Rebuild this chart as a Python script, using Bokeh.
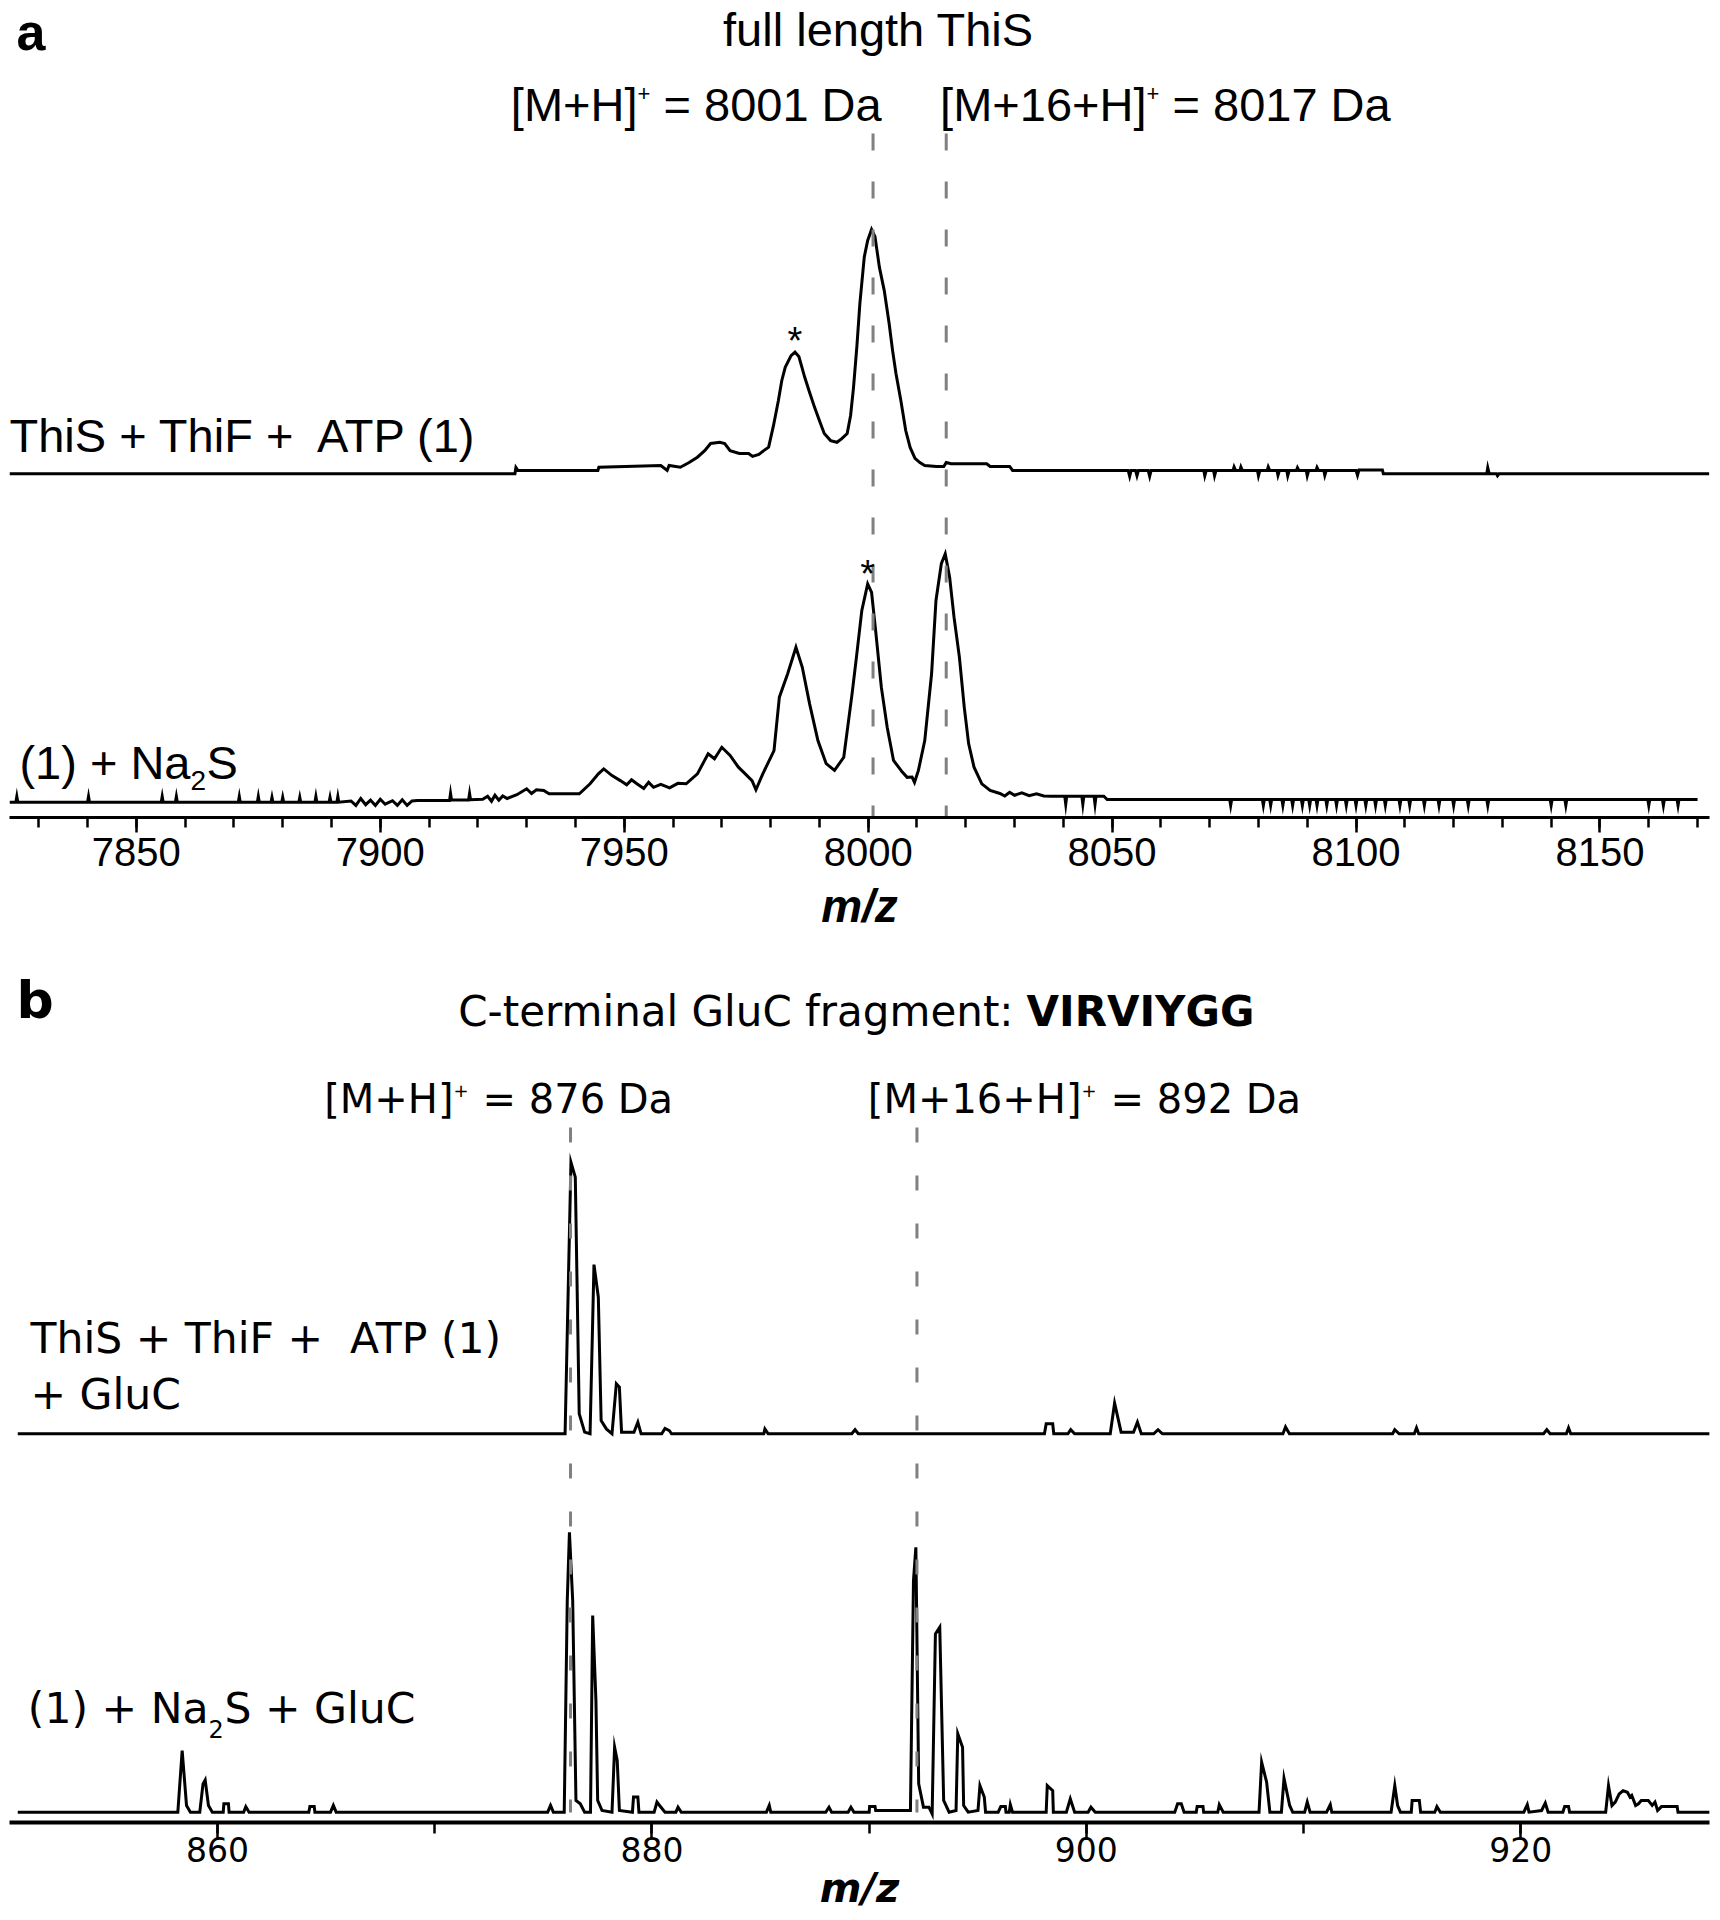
import numpy as np
from bokeh.plotting import figure
from bokeh.models import Range1d, Label, SingleIntervalTicker
from bokeh.layouts import column
from bokeh.embed import file_html
from bokeh.resources import INLINE

# ---------------- data (m/z, relative intensity %) ----------------
a_upper = [
    (7824.0, 0.0), (7927.6, 0.0), (7927.8, 2.6), (7928.2, 1.4), (7944.6, 1.4), (7944.8, 2.7),
    (7957.5, 3.4), (7958.8, 1.4), (7959.2, 3.4), (7961.5, 2.7), (7963.3, 4.6), (7965.0, 6.8),
    (7966.5, 9.5), (7967.7, 12.4), (7969.6, 12.9), (7970.6, 12.4), (7971.7, 9.5), (7973.6, 8.3),
    (7975.5, 8.3), (7976.3, 7.1), (7977.6, 7.9), (7978.6, 9.5), (7979.6, 10.9), (7980.6, 19.8),
    (7981.6, 30.0), (7982.3, 38.2), (7983.0, 43.6), (7984.2, 48.4), (7985.0, 49.8), (7985.8, 48.0),
    (7987.0, 39.5), (7988.0, 33.3), (7989.0, 27.3), (7990.0, 21.8), (7991.0, 16.5), (7992.3, 13.6),
    (7993.6, 12.9), (7994.6, 14.4), (7995.7, 16.5), (7996.4, 23.9), (7997.0, 35.4), (7997.7, 52.5),
    (7998.3, 69.7), (7999.2, 88.7), (7999.9, 95.5), (8000.7, 100.0), (8001.4, 97.1), (8002.3, 84.6),
    (8003.3, 75.0), (8004.3, 61.5), (8005.0, 50.5), (8005.7, 41.1), (8006.7, 30.0), (8007.7, 17.7),
    (8008.6, 10.8), (8009.6, 6.3), (8010.6, 4.6), (8011.6, 3.4), (8014.0, 3.0), (8015.5, 3.0),
    (8016.0, 4.6), (8017.0, 4.1), (8024.3, 4.1), (8025.0, 3.0), (8029.0, 3.0), (8029.6, 1.4),
    (8053.3, 1.4), (8053.6, -1.0), (8053.9, 1.4), (8054.8, 1.4), (8055.1, -0.8), (8055.4, 1.4),
    (8057.4, 1.4), (8057.7, -1.0), (8058.0, 1.4), (8068.8, 1.4), (8069.0, -0.8), (8069.3, 1.4),
    (8070.8, 1.4), (8071.0, -0.8), (8071.3, 1.4), (8074.8, 1.4), (8075.0, 2.8), (8075.3, 1.4),
    (8076.2, 1.4), (8076.4, 2.8), (8076.7, 1.4), (8079.8, 1.4), (8080.0, -0.8), (8080.3, 1.4),
    (8081.8, 1.4), (8082.0, 2.8), (8082.3, 1.4), (8083.8, 1.4), (8084.0, -0.6), (8084.3, 1.4),
    (8085.8, 1.4), (8086.0, -0.8), (8086.3, 1.4), (8087.8, 1.4), (8088.0, 2.5), (8088.3, 1.4),
    (8089.8, 1.4), (8090.0, -0.8), (8090.3, 1.4), (8091.8, 1.4), (8092.0, 2.6), (8092.3, 1.4),
    (8093.4, 1.4), (8093.6, -0.6), (8093.9, 1.4), (8100.0, 1.4), (8100.3, -0.6), (8100.6, 1.6),
    (8105.4, 1.6), (8105.6, 0.0), (8126.8, 0.0), (8127.0, 2.5), (8127.3, 0.0), (8128.8, 0.0),
    (8129.0, -0.8), (8129.3, 0.0), (8172.4, 0.0),
]

a_lower = [
    (7824.0, 0.0), (7825.3, 0.0), (7825.5, 2.3), (7825.7, 0.0), (7840.0, 0.0), (7840.2, 2.3),
    (7840.4, 0.0), (7855.1, 0.0), (7855.3, 2.3), (7855.5, 0.0), (7858.0, 0.0), (7858.2, 2.3),
    (7858.4, 0.0), (7870.9, 0.0), (7871.1, 2.3), (7871.3, 0.0), (7874.8, 0.0), (7875.0, 2.3),
    (7875.2, 0.0), (7877.6, 0.0), (7877.8, 2.0), (7878.0, 0.0), (7879.8, 0.0), (7880.0, 2.0),
    (7880.2, 0.0), (7883.3, 0.0), (7883.5, 2.0), (7883.7, 0.0), (7886.6, 0.0), (7886.8, 2.3),
    (7887.0, 0.0), (7889.5, 0.0), (7889.7, 2.0), (7889.9, 0.0), (7891.1, 0.0), (7891.3, 2.3),
    (7891.5, 0.0), (7894.0, 0.5), (7895.0, -1.3), (7896.0, 1.5), (7897.0, -1.0), (7898.0, 0.8),
    (7899.0, -1.3), (7900.0, 1.2), (7901.0, -0.8), (7902.5, 0.6), (7903.5, -1.3), (7904.5, 1.0),
    (7905.5, -1.3), (7906.5, 0.5), (7907.6, 0.7), (7914.2, 0.7), (7914.4, 3.5), (7914.6, 0.9),
    (7918.1, 0.9), (7918.3, 3.5), (7918.5, 1.0), (7921.0, 1.2), (7922.0, 2.4), (7922.8, 0.4),
    (7923.5, 2.8), (7924.3, 0.8), (7925.1, 2.5), (7926.0, 1.5), (7928.0, 3.0), (7930.0, 5.4),
    (7931.0, 3.5), (7932.0, 5.0), (7933.5, 4.7), (7934.6, 3.4), (7940.8, 3.4), (7943.0, 7.4),
    (7944.7, 11.4), (7945.8, 13.4), (7947.5, 10.7), (7949.2, 8.7), (7950.5, 7.0), (7951.5, 9.0),
    (7952.6, 7.4), (7954.0, 5.5), (7955.0, 8.0), (7956.0, 6.0), (7957.5, 7.2), (7959.3, 5.8),
    (7961.0, 7.6), (7962.7, 7.4), (7965.0, 11.4), (7967.2, 19.5), (7968.5, 17.5), (7970.0, 22.1),
    (7971.7, 18.8), (7973.4, 14.1), (7974.5, 12.0), (7976.2, 8.7), (7977.0, 5.0), (7978.4, 11.4),
    (7980.7, 20.8), (7981.8, 42.3), (7983.5, 51.7), (7985.2, 62.4), (7986.5, 54.3), (7988.0, 39.6),
    (7989.7, 24.8), (7991.4, 15.5), (7993.1, 12.8), (7995.0, 18.1), (7996.7, 43.6), (7997.6, 58.4),
    (7998.7, 77.2), (7999.9, 87.9), (8000.7, 84.5), (8001.6, 67.8), (8002.7, 46.3), (8003.9, 30.2),
    (8005.2, 16.8), (8007.0, 12.1), (8008.0, 10.0), (8009.0, 10.1), (8009.5, 8.0), (8010.3, 12.8),
    (8011.6, 24.8), (8013.0, 51.7), (8013.9, 81.2), (8015.0, 96.0), (8015.8, 100.0), (8016.7, 90.6),
    (8017.6, 74.5), (8018.7, 58.4), (8019.7, 38.2), (8020.6, 23.5), (8021.7, 14.1), (8023.3, 7.4),
    (8025.0, 4.7), (8027.0, 3.5), (8028.0, 2.5), (8029.0, 4.0), (8030.0, 2.8), (8031.5, 3.8),
    (8033.0, 2.6), (8034.5, 3.4), (8036.0, 2.5), (8037.6, 2.4), (8040.3, 2.4), (8040.5, -0.8),
    (8040.7, 2.4), (8043.8, 2.4), (8044.0, -0.8), (8044.2, 2.4), (8046.3, 2.4), (8046.5, -0.8),
    (8046.7, 2.4), (8048.3, 2.4), (8049.0, 1.1), (8074.1, 1.1), (8074.3, -1.3), (8074.5, 1.1),
    (8080.8, 1.1), (8081.0, -1.3), (8081.2, 1.1), (8082.3, 1.1), (8082.5, -1.3), (8082.7, 1.1),
    (8084.8, 1.1), (8085.0, -1.3), (8085.2, 1.1), (8086.8, 1.1), (8087.0, -1.3), (8087.2, 1.1),
    (8088.8, 1.1), (8089.0, -1.3), (8089.2, 1.1), (8090.3, 1.1), (8090.5, -1.3), (8090.7, 1.1),
    (8091.8, 1.1), (8092.0, -1.3), (8092.2, 1.1), (8093.8, 1.1), (8094.0, -1.3), (8094.2, 1.1),
    (8095.8, 1.1), (8096.0, -1.3), (8096.2, 1.1), (8097.8, 1.1), (8098.0, -1.3), (8098.2, 1.1),
    (8099.8, 1.1), (8100.0, -1.3), (8100.2, 1.1), (8101.8, 1.1), (8102.0, -1.3), (8102.2, 1.1),
    (8103.8, 1.1), (8104.0, -1.3), (8104.2, 1.1), (8105.8, 1.1), (8106.0, -1.3), (8106.2, 1.1),
    (8108.8, 1.1), (8109.0, -1.3), (8109.2, 1.1), (8110.8, 1.1), (8111.0, -1.3), (8111.2, 1.1),
    (8113.8, 1.1), (8114.0, -1.3), (8114.2, 1.1), (8116.8, 1.1), (8117.0, -1.3), (8117.2, 1.1),
    (8119.8, 1.1), (8120.0, -1.3), (8120.2, 1.1), (8122.8, 1.1), (8123.0, -1.3), (8123.2, 1.1),
    (8126.8, 1.1), (8127.0, -1.3), (8127.2, 1.1), (8139.8, 1.1), (8140.0, -1.3), (8140.2, 1.1),
    (8142.8, 1.1), (8143.0, -1.3), (8143.2, 1.1), (8159.8, 1.1), (8160.0, -1.3), (8160.2, 1.1),
    (8162.8, 1.1), (8163.0, -1.3), (8163.2, 1.1), (8165.8, 1.1), (8166.0, -1.3), (8166.2, 1.1),
    (8170.0, 1.1),
]

b_upper = [
    (850.8, 0.0), (876.0, 0.0), (876.27, 100.0), (876.47, 94.5), (876.65, 7.4), (876.9, 0.6),
    (877.15, 0.0), (877.33, 62.3), (877.53, 50.3), (877.66, 4.9), (877.9, 1.8), (878.16, 0.0),
    (878.36, 18.4), (878.5, 17.2), (878.6, 0.6), (879.17, 0.6), (879.35, 4.3), (879.5, 0.0),
    (880.45, 0.0), (880.6, 2.0), (880.8, 1.2), (880.9, 0.0), (885.15, 0.0), (885.2, 1.8),
    (885.35, 0.0), (889.2, 0.0), (889.35, 1.5), (889.5, 0.0), (898.07, 0.0), (898.15, 3.7),
    (898.45, 3.7), (898.5, 0.0), (899.15, 0.0), (899.28, 1.5), (899.46, 0.0), (901.1, 0.0),
    (901.3, 11.3), (901.6, 0.6), (902.17, 0.6), (902.35, 4.3), (902.53, 0.0), (903.1, 0.0),
    (903.3, 1.5), (903.5, 0.0), (909.05, 0.0), (909.17, 2.5), (909.35, 0.0), (914.1, 0.0),
    (914.2, 1.5), (914.4, 0.0), (915.1, 0.0), (915.2, 2.2), (915.3, 0.0), (921.05, 0.0),
    (921.2, 1.5), (921.35, 0.0), (922.1, 0.0), (922.2, 2.2), (922.3, 0.0), (928.7, 0.0),
]

b_lower = [
    (850.8, 0.0), (858.17, 0.0), (858.37, 22.0), (858.57, 2.4), (858.75, 0.0), (859.18, 0.0),
    (859.33, 10.1), (859.43, 11.5), (859.58, 2.4), (859.76, 0.0), (860.26, 0.0), (860.29, 3.0),
    (860.5, 3.0), (860.53, 0.0), (861.2, 0.0), (861.3, 2.0), (861.45, 0.0), (864.2, 0.0),
    (864.25, 2.0), (864.45, 2.0), (864.48, 0.0), (865.2, 0.0), (865.33, 2.4), (865.46, 0.0),
    (875.2, 0.0), (875.33, 2.4), (875.46, 0.0), (875.96, 0.0), (876.1, 75.6), (876.2, 100.0),
    (876.35, 75.6), (876.5, 4.2), (876.7, 3.0), (876.9, 0.0), (877.17, 0.0), (877.27, 70.2),
    (877.42, 39.9), (877.5, 4.2), (877.7, 0.6), (878.16, 0.0), (878.28, 23.2), (878.4, 18.5),
    (878.5, 0.6), (879.1, 0.0), (879.15, 5.4), (879.35, 5.4), (879.4, 0.0), (880.1, 0.0),
    (880.23, 3.6), (880.35, 2.4), (880.6, 0.0), (881.1, 0.0), (881.2, 1.8), (881.35, 0.0),
    (885.27, 0.0), (885.4, 2.4), (885.47, 0.0), (888.0, 0.0), (888.15, 1.8), (888.27, 0.0),
    (889.03, 0.0), (889.16, 1.8), (889.3, 0.0), (890.0, 0.0), (890.02, 2.0), (890.27, 2.0),
    (890.3, 0.6), (891.9, 0.6), (892.04, 82.7), (892.15, 94.6), (892.28, 10.1), (892.5, 1.8),
    (892.75, 1.8), (892.9, -0.6), (893.05, 63.7), (893.25, 66.1), (893.43, 4.2), (893.68, 0.0),
    (894.0, 0.6), (894.08, 28.0), (894.3, 23.2), (894.35, 2.4), (894.56, 0.0), (895.01, 0.6),
    (895.1, 9.5), (895.3, 5.4), (895.36, 0.0), (895.94, 0.0), (896.06, 2.0), (896.27, 2.0),
    (896.3, 0.0), (896.45, 0.0), (896.5, 2.7), (896.6, 0.0), (898.15, 0.0), (898.2, 9.5),
    (898.45, 7.7), (898.48, 0.0), (899.08, 0.0), (899.26, 4.8), (899.46, 0.0), (900.08, 0.0),
    (900.21, 1.8), (900.41, 0.0), (904.07, 0.0), (904.2, 3.0), (904.37, 3.0), (904.5, 0.0),
    (905.06, 0.0), (905.1, 2.0), (905.37, 2.0), (905.4, 0.0), (906.05, 0.0), (906.12, 2.7),
    (906.3, 0.0), (907.95, 0.0), (908.07, 17.9), (908.3, 10.7), (908.45, 0.0), (908.98, 0.0),
    (909.1, 12.1), (909.36, 2.4), (909.5, 0.0), (910.05, 0.0), (910.17, 3.6), (910.3, 0.0),
    (911.06, 0.0), (911.23, 2.7), (911.3, 0.0), (914.03, 0.0), (914.2, 9.5), (914.33, 2.4),
    (914.46, 0.0), (914.96, 0.0), (915.0, 4.2), (915.33, 4.2), (915.39, 0.0), (916.04, 0.0),
    (916.14, 2.0), (916.3, 0.0), (920.14, 0.0), (920.3, 2.7), (920.38, 0.0), (920.96, 0.6),
    (921.13, 3.3), (921.26, 0.0), (921.94, 0.0), (922.02, 2.0), (922.2, 2.0), (922.25, 0.0),
    (923.91, 0.0), (924.04, 9.5), (924.2, 2.4), (924.35, 3.6), (924.53, 6.5), (924.71, 7.7),
    (924.91, 7.1), (925.03, 5.4), (925.11, 6.0), (925.29, 2.4), (925.42, 3.0), (925.55, 4.2),
    (925.87, 4.2), (926.05, 2.4), (926.18, 3.6), (926.3, 0.6), (926.48, 2.0), (927.2, 2.0),
    (927.24, 0.0), (928.7, 0.0),
]

a_marker_lines = [8001.0, 8016.0]
b_marker_lines = [876.25, 892.2]
a_star_peaks = [7985.0, 7999.9]

a_labels = ["ThiS + ThiF +\u00a0 ATP (1)", "(1) + Na", "2", "S"]
b_labels = ["ThiS + ThiF +\u00a0 ATP (1)", "+ GluC", "(1) + Na", "2", "S + GluC"]

# ---------------- helpers ----------------
FA = "Liberation Sans"
FB = "DejaVu Sans"
K = 0.34  # correction of rendered text baseline


def txt(p, base, xs, yb, text, font, size, style="normal", align="left", x_units="screen"):
    # base: page y of the axis (data y = 0); yb: page y of the text baseline
    p.add_layout(Label(x=xs, y=base - yb + K * size, x_units=x_units, y_units="data", text=text,
                       text_font=font, text_font_size=f"{size}px", text_font_style=style,
                       text_align=align, text_baseline="alphabetic", text_color="black"))


def base_fig(height, xr, yr_top, bottom):
    p = figure(width=1720, height=height, x_range=Range1d(*xr), y_range=Range1d(0, yr_top),
               output_backend="svg", toolbar_location=None, y_axis_location=None,
               min_border_left=9, min_border_right=11, min_border_top=0, min_border_bottom=bottom)
    p.grid.visible = False
    p.outline_line_color = None
    p.background_fill_color = "white"
    p.border_fill_color = "white"
    return p


def trace(p, pts, offset, scale, width=3):
    arr = np.array(pts)
    p.line(arr[:, 0], offset + arr[:, 1] * scale, line_color="black", line_width=width,
           line_join="miter")


# ---------------- panel a ----------------
A0 = 817
pa = base_fig(952, (7824.0, 8172.45), 817, 135)
trace(pa, a_upper, 343.7, 2.443, 3)
trace(pa, a_lower, 15.3, 2.484, 3)
pa.segment(x0=a_marker_lines, y0=[684] * 2, x1=a_marker_lines, y1=[0] * 2,
           line_color="#808080", line_width=3, line_dash="17 31")
ax = pa.xaxis[0]
ax.ticker = SingleIntervalTicker(interval=50, num_minor_ticks=5)
ax.axis_line_width = 3
ax.major_tick_out = 15
ax.major_tick_in = 0
ax.minor_tick_out = 10
ax.minor_tick_in = 0
ax.major_tick_line_width = 2.5
ax.minor_tick_line_width = 2.5
ax.major_label_text_font = FA
ax.major_label_text_font_size = "40px"
ax.major_label_text_color = "black"
ax.major_label_standoff = 5
ax.axis_label = "m/z"
ax.axis_label_text_font = FA
ax.axis_label_text_font_size = "46px"
ax.axis_label_text_font_style = "bold italic"
ax.axis_label_text_color = "black"
ax.axis_label_standoff = 11

txt(pa, A0, 7, 49, "a", FA, 52, "bold")
txt(pa, A0, 869, 45, "full length ThiS", FA, 47, align="center")
txt(pa, A0, 628, 120, "[M+H]", FA, 47, align="right")
txt(pa, A0, 628, 100, "+", FA, 22)
txt(pa, A0, 654, 120, "= 8001 Da", FA, 47)
txt(pa, A0, 1137, 120, "[M+16+H]", FA, 47, align="right")
txt(pa, A0, 1137, 100, "+", FA, 22)
txt(pa, A0, 1163, 120, "= 8017 Da", FA, 47)
txt(pa, A0, 0, 451, a_labels[0], FA, 47)
txt(pa, A0, 181, 778, a_labels[1], FA, 47, align="right")
txt(pa, A0, 181, 790, a_labels[2], FA, 28)
txt(pa, A0, 197, 778, a_labels[3], FA, 47)
txt(pa, A0, a_star_peaks[0], 353, "*", FA, 38, align="center", x_units="data")
txt(pa, A0, a_star_peaks[1], 586, "*", FA, 38, align="center", x_units="data")

# ---------------- panel b ----------------
pb = base_fig(968, (850.42, 928.69), 870, 98)
trace(pb, b_upper, 388.7, 2.716, 3)
trace(pb, b_lower, 10.3, 2.8, 3)
pb.segment(x0=b_marker_lines, y0=[695] * 2, x1=b_marker_lines, y1=[10] * 2,
           line_color="#808080", line_width=3, line_dash="15 33")
bx = pb.xaxis[0]
bx.ticker = SingleIntervalTicker(interval=20, num_minor_ticks=2)
bx.axis_line_width = 4
bx.major_tick_out = 17
bx.major_tick_in = 0
bx.minor_tick_out = 11
bx.minor_tick_in = 0
bx.major_tick_line_width = 2.5
bx.minor_tick_line_width = 2.5
bx.major_label_text_font = FB
bx.major_label_text_font_size = "33px"
bx.major_label_text_color = "black"
bx.major_label_standoff = -3
bx.axis_label = "m/z"
bx.axis_label_text_font = FB
bx.axis_label_text_font_size = "40px"
bx.axis_label_text_font_style = "bold italic"
bx.axis_label_text_color = "black"
bx.axis_label_standoff = 0


def tb(xs, yb_page, text, size, style="normal", align="left"):
    txt(pb, 1822, xs, yb_page, text, FB, size, style, align)


tb(7, 1017, "b", 52, "bold")
tb(1004, 1025, "C-terminal GluC fragment:", 42, align="right")
tb(1017, 1025, "VIRVIYGG", 42, "bold")
tb(444, 1112, "[M+H]", 40, align="right")
tb(444, 1096, "+", 18)
tb(473, 1112, "= 876 Da", 40)
tb(1072, 1112, "[M+16+H]", 40, align="right")
tb(1072, 1096, "+", 18)
tb(1101, 1112, "= 892 Da", 40)
tb(21, 1352, b_labels[0], 42.5)
tb(21, 1408, b_labels[1], 42.5)
tb(199, 1722, b_labels[2], 42.5, align="right")
tb(199, 1737, b_labels[3], 24)
tb(215, 1722, b_labels[4], 42.5)

layout = column(pa, pb, spacing=0)
open("out.html", "w").write(file_html(layout, INLINE))
